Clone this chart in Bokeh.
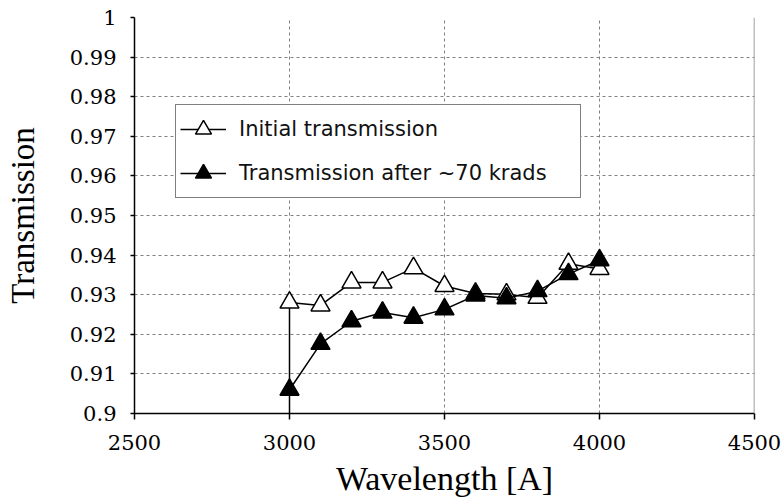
from bokeh.plotting import figure
from bokeh.models import FixedTicker, Span, Legend, LegendItem, Range1d, CustomJSTickFormatter
from bokeh.embed import file_html
from bokeh.resources import INLINE

# ---- data ----
# The initial series starts with an off-scale reading at 3000 A (drawn as a clipped vertical line)
initial_wavelength = [3000, 3000, 3100, 3200, 3300, 3400, 3500, 3600, 3700, 3800, 3900, 4000]
initial_transmission = [0.0, 0.928, 0.9273, 0.9331, 0.9331, 0.9367, 0.9322, 0.9303, 0.9301, 0.9292, 0.9378, 0.9365]

after_wavelength = [3000, 3100, 3200, 3300, 3400, 3500, 3600, 3700, 3800, 3900, 4000]
after_transmission = [0.906, 0.9176, 0.9233, 0.9255, 0.9242, 0.9263, 0.9298, 0.9291, 0.9309, 0.9352, 0.9387]

series_labels = ["Initial transmission", "Transmission after ~70 krads"]

x_ticks = [2500, 3000, 3500, 4000, 4500]
x_tick_labels = ["2500", "3000", "3500", "4000", "4500"]
y_ticks = [0.9, 0.91, 0.92, 0.93, 0.94, 0.95, 0.96, 0.97, 0.98, 0.99, 1.0]
y_tick_labels = ["0.9", "0.91", "0.92", "0.93", "0.94", "0.95", "0.96", "0.97", "0.98", "0.99", "1"]

x_title = "Wavelength [A]"
y_title = "Transmission"

LABEL_JS = """
let best = 0;
for (let i = 1; i < tvals.length; i++) {
  if (Math.abs(tvals[i] - tick) < Math.abs(tvals[best] - tick)) best = i;
}
return tlabels[best];
"""

# ---- figure ----
p = figure(
    frame_width=620, frame_height=396,
    min_border_left=134, min_border_right=30, min_border_top=17, min_border_bottom=88,
    x_range=Range1d(x_ticks[0], x_ticks[-1]), y_range=Range1d(y_ticks[0], y_ticks[-1]),
    output_backend="svg", toolbar_location=None,
    background_fill_color="white", border_fill_color="white",
)
p.outline_line_color = None

GRID = "#808080"
SERIF = "Liberation Serif"

p.axis.axis_line_color = "black"
p.axis.axis_line_width = 1.5
p.axis.major_tick_line_color = "black"
p.axis.major_tick_line_width = 1.5
p.axis.minor_tick_line_color = None
p.axis.major_tick_in = 0
p.axis.axis_label_text_font = SERIF
p.axis.axis_label_text_font_style = "normal"
p.axis.axis_label_text_color = "black"

p.xaxis.ticker = FixedTicker(ticks=x_ticks)
p.xaxis.formatter = CustomJSTickFormatter(args=dict(tvals=x_ticks, tlabels=x_tick_labels), code=LABEL_JS)
p.xaxis.major_tick_out = 6
p.xaxis.major_label_standoff = 15
p.xaxis.axis_label = x_title
p.xaxis.axis_label_text_font_size = "34px"
p.xaxis.axis_label_standoff = 7

p.yaxis.ticker = FixedTicker(ticks=y_ticks)
p.yaxis.formatter = CustomJSTickFormatter(args=dict(tvals=y_ticks, tlabels=y_tick_labels), code=LABEL_JS)
p.yaxis.major_tick_out = 4
p.yaxis.major_label_standoff = 14
p.yaxis.axis_label = y_title
p.yaxis.axis_label_text_font_size = "33px"
p.yaxis.axis_label_standoff = 26

# tick label font, set last
p.axis.major_label_text_font = "DejaVu Serif"
p.axis.major_label_text_font_style = "normal"
p.axis.major_label_text_font_size = "21px"
p.axis.major_label_text_color = "black"

p.xgrid.ticker = FixedTicker(ticks=x_ticks)
p.ygrid.ticker = FixedTicker(ticks=y_ticks)
p.grid.grid_line_color = GRID
p.grid.grid_line_width = 1
p.grid.grid_line_dash = "3 3"

# right border of plot area
p.add_layout(Span(location=x_ticks[-1], dimension="height", line_color=GRID, line_width=1.5))

# ---- series ----
l1 = p.line(initial_wavelength, initial_transmission, line_color="black", line_width=1.5)
s1 = p.scatter(initial_wavelength, initial_transmission, marker="triangle", size=19,
               fill_color="white", line_color="black", line_width=1.5)
l2 = p.line(after_wavelength, after_transmission, line_color="black", line_width=1.5)
s2 = p.scatter(after_wavelength, after_transmission, marker="triangle", size=19,
               fill_color="black", line_color="black", line_width=1.5)

legend = Legend(
    items=[LegendItem(label=series_labels[0], renderers=[l1, s1]),
           LegendItem(label=series_labels[1], renderers=[l2, s2])],
    location=(41, 215),
    border_line_color="black", border_line_width=1,
    background_fill_color="white", background_fill_alpha=1,
    label_text_font="DejaVu Sans", label_text_font_size="21px", label_text_color="#111111",
    glyph_width=46, glyph_height=40, label_height=40, label_width=337,
    label_standoff=13, spacing=4, padding=4, margin=0,
)
p.add_layout(legend, "center")

open("out.html", "w").write(file_html(p, INLINE))
